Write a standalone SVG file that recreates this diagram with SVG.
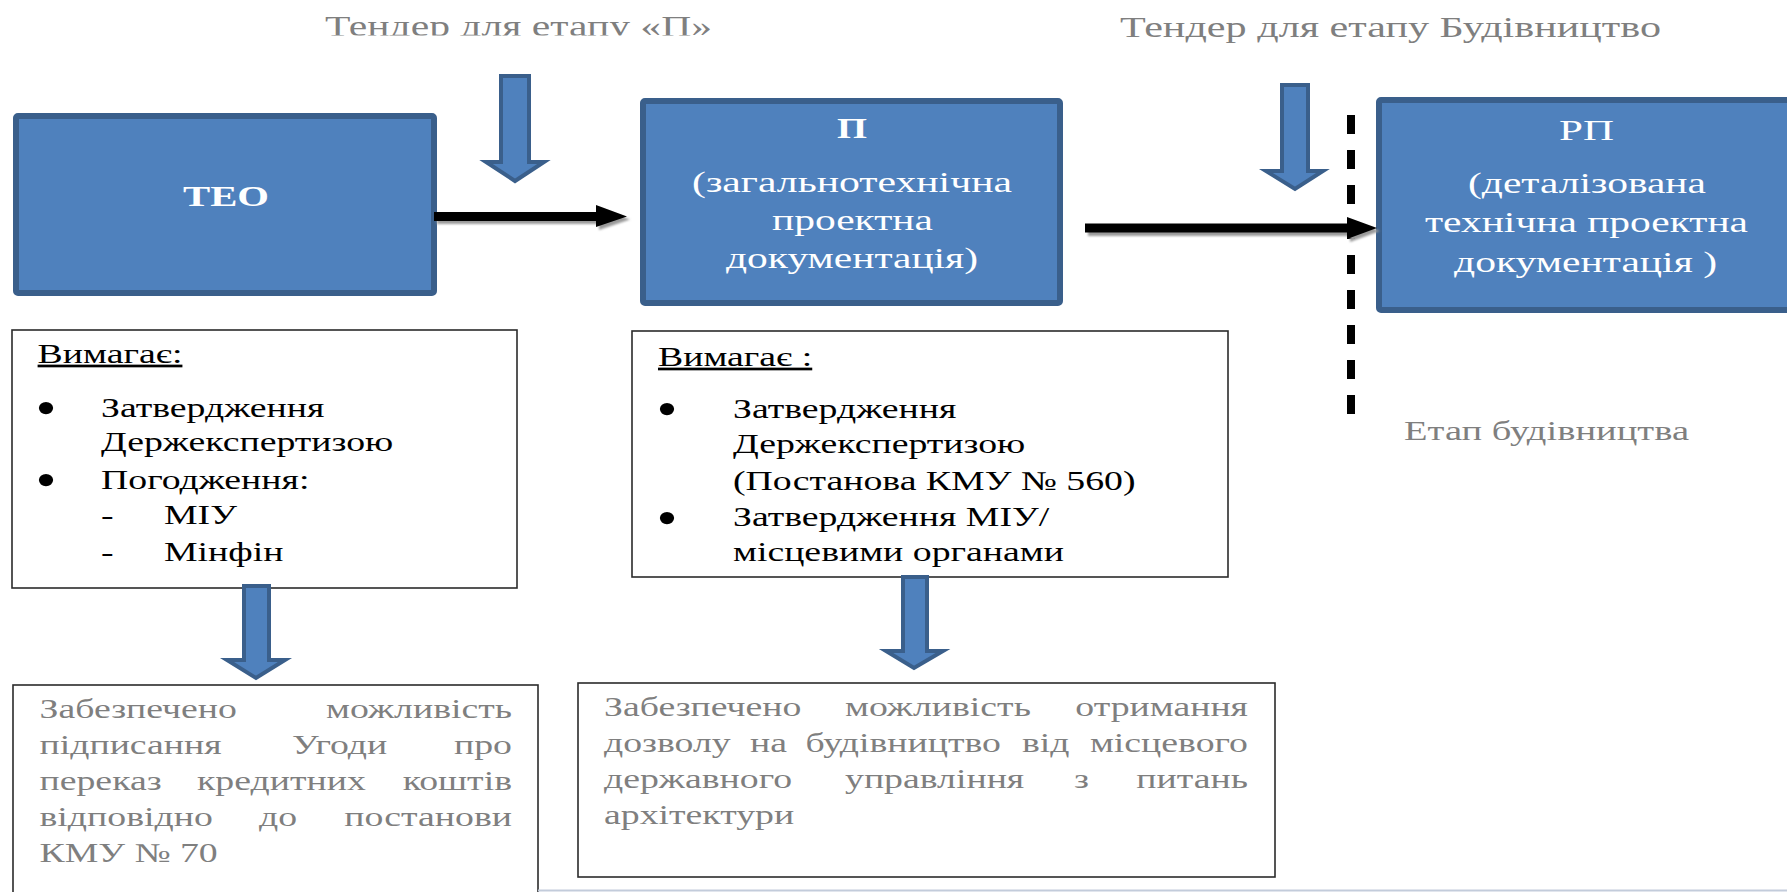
<svg xmlns="http://www.w3.org/2000/svg" width="1787" height="892" viewBox="0 0 1787 892">
<style>
.blue{fill:#4f81bd;stroke:#3a5f8b;stroke-width:6;stroke-linejoin:round}
.barrow{fill:#4f81bd;stroke:#3a5f8b;stroke-width:4;stroke-linejoin:miter}
.box{fill:#ffffff;stroke:#2b2b2b;stroke-width:1.6}
.t{font-family:"Liberation Serif","Times New Roman",serif}
.w{fill:#ffffff;font-size:30px}
.g{fill:#7f7f7f}
.k{fill:#000000}
.blk{fill:#000000}
.shd{fill:#9a9a9a}
</style>
<defs>
<clipPath id="clipTitle"><rect x="0" y="0" width="900" height="35.5"/></clipPath>
<filter id="soft" x="-50%" y="-10%" width="200%" height="120%"><feGaussianBlur stdDeviation="1.2"/></filter>
</defs>
<rect x="0" y="0" width="1787" height="892" fill="#ffffff"/>

<g id="title-p">
<text class="t g" x="518.5" y="36" font-size="30" text-anchor="middle" textLength="387" lengthAdjust="spacingAndGlyphs" clip-path="url(#clipTitle)">Тендер для етапу «П»</text>
</g>
<g id="title-build">
<text class="t g" x="1390.5" y="37" font-size="30" text-anchor="middle" textLength="541" lengthAdjust="spacingAndGlyphs">Тендер для етапу Будівництво</text>
</g>

<g id="node-teo">
<rect class="blue" x="16" y="116" width="418" height="177" rx="2"/>
<text class="t w" x="226" y="206" font-size="29" font-weight="bold" text-anchor="middle" textLength="86" lengthAdjust="spacingAndGlyphs">ТЕО</text>
</g>

<g id="node-p">
<rect class="blue" x="643" y="101" width="417" height="202" rx="2"/>
<text class="t w" x="852" y="138" font-size="28" font-weight="bold" text-anchor="middle" textLength="30" lengthAdjust="spacingAndGlyphs">П</text>
<text class="t w" x="852" y="192" text-anchor="middle" textLength="320" lengthAdjust="spacingAndGlyphs">(загальнотехнічна</text>
<text class="t w" x="852.5" y="230" text-anchor="middle" textLength="161" lengthAdjust="spacingAndGlyphs">проектна</text>
<text class="t w" x="852" y="268" text-anchor="middle" textLength="252" lengthAdjust="spacingAndGlyphs">документація)</text>
</g>

<g id="node-rp">
<rect class="blue" x="1379" y="100" width="450" height="210" rx="2"/>
<text class="t w" x="1586.5" y="140" text-anchor="middle" textLength="55" lengthAdjust="spacingAndGlyphs">РП</text>
<text class="t w" x="1587" y="193" text-anchor="middle" textLength="238" lengthAdjust="spacingAndGlyphs">(деталізована</text>
<text class="t w" x="1586.5" y="232" text-anchor="middle" textLength="323" lengthAdjust="spacingAndGlyphs">технічна проектна</text>
<text class="t w" x="1585.5" y="272" text-anchor="middle" textLength="263" lengthAdjust="spacingAndGlyphs">документація )</text>
</g>

<g id="label-stage">
<text class="t g" x="1546.5" y="440" font-size="27" text-anchor="middle" textLength="285" lengthAdjust="spacingAndGlyphs">Етап будівництва</text>
</g>

<g id="node-req1">
<rect class="box" x="12" y="330" width="505" height="258"/>
</g>
<g id="node-req2">
<rect class="box" x="632" y="331" width="596" height="246"/>
</g>
<g id="node-res1">
<rect class="box" x="13" y="685" width="525" height="215"/>
</g>
<g id="node-res2">
<rect class="box" x="578" y="683" width="697" height="194"/>
</g>

<line x1="538" y1="890.5" x2="1787" y2="890.5" stroke="#c3ccdb" stroke-width="2"/>

<g id="connectors">
<line x1="1353" y1="118" x2="1353" y2="417" stroke="#8a8a8a" stroke-width="8" stroke-dasharray="19 16" filter="url(#soft)" opacity="0.8"/>
<line x1="1351" y1="115" x2="1351" y2="414" stroke="#000" stroke-width="8" stroke-dasharray="19 16"/>
<path class="shd" d="M437,215 H599 V208 L630,219.5 L599,230 V224 H437 Z" filter="url(#soft)"/>
<path class="blk" d="M434,212 H596 V205 L627,216.5 L596,227 V221 H434 Z"/>
<path class="shd" d="M1088,227 H1350 V220 L1380,231 L1350,242 V236 H1088 Z" filter="url(#soft)"/>
<path class="blk" d="M1085,223.5 H1347 V217 L1377,228 L1347,239 V232.5 H1085 Z"/>
<path id="arrow-tender-p" class="barrow" d="M501,76 H529 V162 H544 L515,181 L486,162 H501 Z"/>
<path id="arrow-tender-build" class="barrow" d="M1282,85 H1308 V171 H1323 L1295,189 L1266,171 H1282 Z"/>
<path id="arrow-req1" class="barrow" d="M244,586 H269 V660 H285 L256,678 L227,660 H244 Z"/>
<path id="arrow-req2" class="barrow" d="M903,577 H927 V651 H943 L914,668 L886,651 H903 Z"/>
</g>

<g id="bullets" transform="scale(1.2 1)" class="t k" font-size="50" text-anchor="middle">
<text x="38.3" y="425">•</text>
<text x="38.3" y="497.5">•</text>
<text x="555.8" y="426.5">•</text>
<text x="555.8" y="535.5">•</text>
</g>

<g id="texts" transform="scale(1.4 1)" class="t" font-size="27">
<g id="req1-text" class="k">
<text x="26.86" y="363" text-decoration="underline">Вимагає:</text>
<text x="72.14" y="417">Затвердження</text>
<text x="72.14" y="451">Держекспертизою</text>
<text x="72.14" y="489">Погодження:</text>
<text x="72.14" y="524">-</text>
<text x="117.14" y="524">МІУ</text>
<text x="72.14" y="561">-</text>
<text x="117.14" y="561">Мінфін</text>
</g>
<g id="req2-text" class="k">
<text x="470" y="366" text-decoration="underline">Вимагає :</text>
<text x="523.57" y="418">Затвердження</text>
<text x="523.57" y="453">Держекспертизою</text>
<text x="523.57" y="490">(Постанова КМУ № 560)</text>
<text x="523.57" y="526">Затвердження МІУ/</text>
<text x="523.57" y="561">місцевими органами</text>
</g>
<g id="res1-text" class="g">
<text x="28.21" y="718">Забезпечено</text>
<text x="365.71" y="718" text-anchor="end">можливість</text>
<text x="28.21" y="754">підписання</text>
<text x="208.57" y="754">Угоди</text>
<text x="365.71" y="754" text-anchor="end">про</text>
<text x="28.21" y="790">переказ</text>
<text x="140.71" y="790">кредитних</text>
<text x="365.71" y="790" text-anchor="end">коштів</text>
<text x="28.21" y="826">відповідно</text>
<text x="185" y="826">до</text>
<text x="365.71" y="826" text-anchor="end">постанови</text>
<text x="28.21" y="862">КМУ № 70</text>
</g>
<g id="res2-text" class="g">
<text x="431.43" y="716">Забезпечено</text>
<text x="603.57" y="716">можливість</text>
<text x="891.43" y="716" text-anchor="end">отримання</text>
<text x="431.43" y="752">дозволу</text>
<text x="535.71" y="752">на</text>
<text x="575.36" y="752">будівництво</text>
<text x="730" y="752">від</text>
<text x="891.43" y="752" text-anchor="end">місцевого</text>
<text x="431.43" y="788">державного</text>
<text x="603.57" y="788">управління</text>
<text x="767.14" y="788">з</text>
<text x="891.43" y="788" text-anchor="end">питань</text>
<text x="431.43" y="824">архітектури</text>
</g>
</g>
</svg>
